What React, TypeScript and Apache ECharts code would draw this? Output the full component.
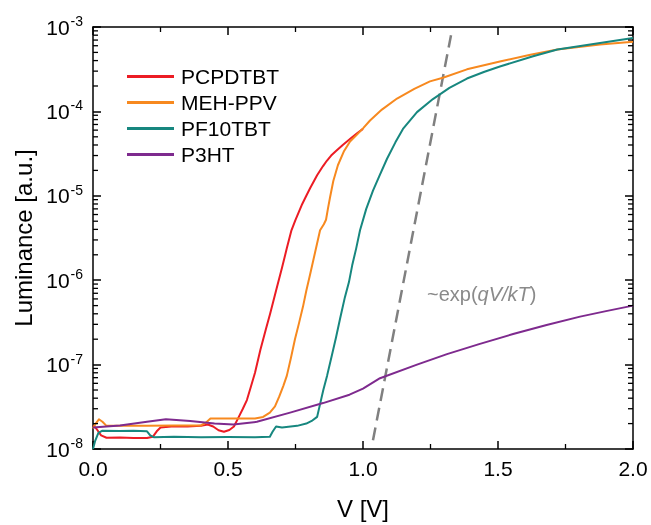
import React, { useEffect, useRef } from 'react';
import * as echarts from 'echarts';

const FONT = '"Liberation Sans", Arial, Helvetica, sans-serif';

const seriesNames = ['PCPDTBT', 'MEH-PPV', 'PF10TBT', 'P3HT'];
const seriesColors = ['#ec1c24', '#f7891f', '#17877f', '#7e2a8e'];

// [V, luminance]
const pcpdtbt: [number, number][] = [
  [0, 1.9e-8], [0.012, 1.75e-8], [0.03, 1.45e-8], [0.05, 1.36e-8], [0.1, 1.37e-8], [0.15, 1.35e-8],
  [0.2, 1.35e-8], [0.222, 1.4e-8], [0.236, 1.62e-8], [0.25, 1.8e-8], [0.3, 1.86e-8], [0.35, 1.85e-8],
  [0.4, 1.88e-8], [0.425, 1.95e-8], [0.445, 1.85e-8], [0.465, 1.67e-8], [0.485, 1.6e-8], [0.505, 1.68e-8],
  [0.522, 1.85e-8], [0.54, 2.4e-8], [0.555, 3.0e-8], [0.57, 3.8e-8], [0.585, 5.5e-8], [0.6, 8e-8],
  [0.62, 1.5e-7], [0.64, 2.6e-7], [0.656, 4e-7], [0.68, 8e-7], [0.7, 1.4e-6], [0.718, 2.4e-6],
  [0.735, 3.9e-6], [0.75, 5.2e-6], [0.775, 8e-6], [0.79, 1.0e-5], [0.804, 1.23e-5], [0.83, 1.75e-5],
  [0.852, 2.25e-5], [0.866, 2.6e-5], [0.882, 3.0e-5], [0.9, 3.4e-5], [0.925, 4.0e-5], [0.955, 4.8e-5],
  [0.978, 5.5e-5], [1.0, 6.2e-5],
];

const mehppv: [number, number][] = [
  [0, 1.75e-8], [0.01, 2.0e-8], [0.022, 2.25e-8], [0.035, 2.1e-8], [0.05, 1.88e-8], [0.1, 1.88e-8],
  [0.2, 1.88e-8], [0.3, 1.9e-8], [0.4, 1.9e-8], [0.418, 2.05e-8], [0.435, 2.3e-8], [0.5, 2.3e-8],
  [0.6, 2.3e-8], [0.63, 2.4e-8], [0.655, 2.7e-8], [0.674, 3.2e-8], [0.69, 4.2e-8], [0.705, 5.6e-8],
  [0.718, 7.4e-8], [0.733, 1.2e-7], [0.748, 2.0e-7], [0.763, 3.1e-7], [0.778, 4.9e-7], [0.79, 7.5e-7],
  [0.804, 1.17e-6], [0.822, 2.1e-6], [0.841, 3.9e-6], [0.855, 4.6e-6], [0.863, 5.2e-6], [0.87, 7e-6],
  [0.878, 9.6e-6], [0.89, 1.5e-5], [0.907, 2.3e-5], [0.93, 3.4e-5], [0.952, 4.4e-5], [0.975, 5.2e-5],
  [1.0, 6.3e-5], [1.026, 7.8e-5], [1.07, 1.05e-4], [1.126, 1.42e-4], [1.19, 1.85e-4], [1.248, 2.27e-4],
  [1.296, 2.5e-4], [1.385, 3.15e-4], [1.507, 3.9e-4], [1.62, 4.7e-4], [1.72, 5.4e-4], [1.878, 6.2e-4],
  [2.0, 6.7e-4],
];

const pf10tbt: [number, number][] = [
  [0, 1.0e-8], [0.008, 1.25e-8], [0.02, 1.55e-8], [0.035, 1.65e-8], [0.1, 1.63e-8], [0.15, 1.65e-8],
  [0.2, 1.62e-8], [0.212, 1.45e-8], [0.225, 1.38e-8], [0.3, 1.4e-8], [0.4, 1.38e-8], [0.5, 1.39e-8],
  [0.6, 1.38e-8], [0.655, 1.4e-8], [0.665, 1.6e-8], [0.678, 1.85e-8], [0.7, 1.8e-8], [0.756, 1.88e-8],
  [0.79, 2.0e-8], [0.81, 2.15e-8], [0.83, 2.4e-8], [0.841, 3.4e-8], [0.853, 5e-8], [0.867, 7.4e-8],
  [0.885, 1.3e-7], [0.9, 2.1e-7], [0.915, 3.5e-7], [0.933, 6.3e-7], [0.948, 9.5e-7], [0.96, 1.5e-6],
  [0.975, 2.4e-6], [0.989, 3.9e-6], [1.012, 7e-6], [1.037, 1.15e-5], [1.06, 1.7e-5], [1.089, 2.75e-5],
  [1.12, 4.3e-5], [1.148, 6.2e-5], [1.2, 9.8e-5], [1.259, 1.4e-4], [1.32, 1.9e-4], [1.385, 2.45e-4],
  [1.45, 2.95e-4], [1.507, 3.4e-4], [1.63, 4.5e-4], [1.72, 5.4e-4], [1.878, 6.45e-4], [2.0, 7.4e-4],
];

const p3ht: [number, number][] = [
  [0, 1.8e-8], [0.1, 1.9e-8], [0.2, 2.1e-8], [0.27, 2.25e-8], [0.36, 2.15e-8], [0.45, 2.0e-8],
  [0.52, 1.95e-8], [0.607, 2.1e-8], [0.73, 2.7e-8], [0.852, 3.5e-8], [0.95, 4.4e-8], [1.0, 5.2e-8],
  [1.063, 6.9e-8], [1.2, 1.0e-7], [1.311, 1.33e-7], [1.43, 1.75e-7], [1.556, 2.3e-7], [1.68, 2.95e-7],
  [1.804, 3.7e-7], [1.9, 4.3e-7], [2.0, 5.0e-7],
];

const expGuide: [number, number][] = [[1.037, 1.27e-8], [1.326, 8.0e-4]];

const seriesData = [pcpdtbt, mehppv, pf10tbt, p3ht];

const xMin = 0;
const xMax = 2;
const xInterval = 0.5;
const yMin = 1e-8;
const yMax = 1e-3;

const minorDecadeTicks: number[] = [];
for (let d = -8; d < -3; d++) {
  for (let m = 2; m <= 9; m++) minorDecadeTicks.push(m * Math.pow(10, d));
}

export default function App() {
  const ref = useRef<HTMLDivElement>(null);
  useEffect(() => {
    if (!ref.current) return;
    const chart = echarts.init(ref.current, null, { renderer: 'svg' });
    const black = '#000';
    const xAxisBase = {
      type: 'value',
      min: xMin,
      max: xMax,
      interval: xInterval,
      splitLine: { show: false },
      axisLine: { show: true, onZero: false, lineStyle: { color: black, width: 1.5 } },
      axisTick: { show: true, inside: true, length: 8, lineStyle: { color: black, width: 1.5 } },
      minorTick: { show: true, splitNumber: 2, length: 5, lineStyle: { color: black, width: 1.3 } },
    };
    const yAxisBase = {
      type: 'log',
      logBase: 10,
      min: yMin,
      max: yMax,
      splitLine: { show: false },
      axisLine: { show: true, onZero: false, lineStyle: { color: black, width: 1.5 } },
      axisTick: { show: true, inside: true, length: 8, lineStyle: { color: black, width: 1.5 } },
    };
    chart.setOption({
      animation: false,
      grid: { left: 93, right: 18, top: 27, bottom: 71, containLabel: false },
      legend: {
        data: seriesNames,
        orient: 'vertical',
        left: 122,
        top: 61,
        itemWidth: 47,
        itemHeight: 3,
        itemGap: 5,
        icon: 'rect',
        textStyle: { fontSize: 21, color: black, fontFamily: FONT, padding: [0, 0, 0, 2] },
      },
      xAxis: [
        {
          ...xAxisBase,
          position: 'bottom',
          name: 'V [V]',
          nameLocation: 'middle',
          nameGap: 47,
          nameTextStyle: { fontSize: 24, color: black, fontFamily: FONT },
          axisLabel: {
            fontSize: 21,
            color: black,
            fontFamily: FONT,
            margin: 9,
            formatter: (v: number) => v.toFixed(1),
          },
        },
        {
          ...xAxisBase,
          position: 'top',
          axisLabel: { show: false },
        },
      ],
      yAxis: [
        {
          ...yAxisBase,
          position: 'left',
          name: 'Luminance [a.u.]',
          nameLocation: 'middle',
          nameGap: 57,
          nameTextStyle: { fontSize: 24, color: black, fontFamily: FONT },
          axisLabel: {
            margin: 10,
            formatter: (v: number) => `{b|10}{s|${Math.round(Math.log10(v))}}`,
            rich: {
              b: { fontSize: 21, color: black, fontFamily: FONT },
              s: { fontSize: 14, color: black, fontFamily: FONT, padding: [0, 0, 12, 1] },
            },
          },
        },
        {
          ...yAxisBase,
          position: 'right',
          axisLabel: { show: false },
        },
      ],
      series: [
        ...seriesNames.map((name, i) => ({
          name,
          type: 'line',
          data: seriesData[i],
          showSymbol: false,
          symbol: 'none',
          xAxisIndex: 0,
          yAxisIndex: 0,
          lineStyle: { color: seriesColors[i], width: 2, join: 'round' },
          itemStyle: { color: seriesColors[i] },
          z: 3 + i,
        })),
        {
          name: 'exp guide',
          type: 'line',
          data: expGuide,
          showSymbol: false,
          symbol: 'none',
          lineStyle: { color: '#808080', width: 2.5, type: [13, 7] },
          itemStyle: { color: '#808080' },
          z: 2,
        },
        {
          name: 'minor ticks',
          type: 'custom',
          silent: true,
          clip: false,
          z: 10,
          data: minorDecadeTicks.map((v) => [xMin, v]),
          renderItem: (_params: any, api: any) => {
            const v = api.value(1);
            const l = api.coord([xMin, v]);
            const r = api.coord([xMax, v]);
            const st = { stroke: black, lineWidth: 1.3 };
            return {
              type: 'group',
              children: [
                { type: 'line', shape: { x1: l[0], y1: l[1], x2: l[0] + 5, y2: l[1] }, style: st },
                { type: 'line', shape: { x1: r[0], y1: r[1], x2: r[0] - 5, y2: r[1] }, style: st },
              ],
            };
          },
        },
      ],
      graphic: [
        {
          type: 'text',
          left: 427,
          top: 284,
          style: {
            text: '{n|~exp(}{i|qV/kT}{n|)}',
            rich: {
              n: { fontSize: 20, fill: '#8a8a8a', fontFamily: FONT },
              i: { fontSize: 20, fill: '#8a8a8a', fontFamily: FONT, fontStyle: 'italic' },
            },
          },
        },
      ],
    });
    return () => chart.dispose();
  }, []);
  return (
    <div
      ref={ref}
      style={{ position: 'fixed', left: 0, top: 0, width: 651, height: 525 }}
    />
  );
}
